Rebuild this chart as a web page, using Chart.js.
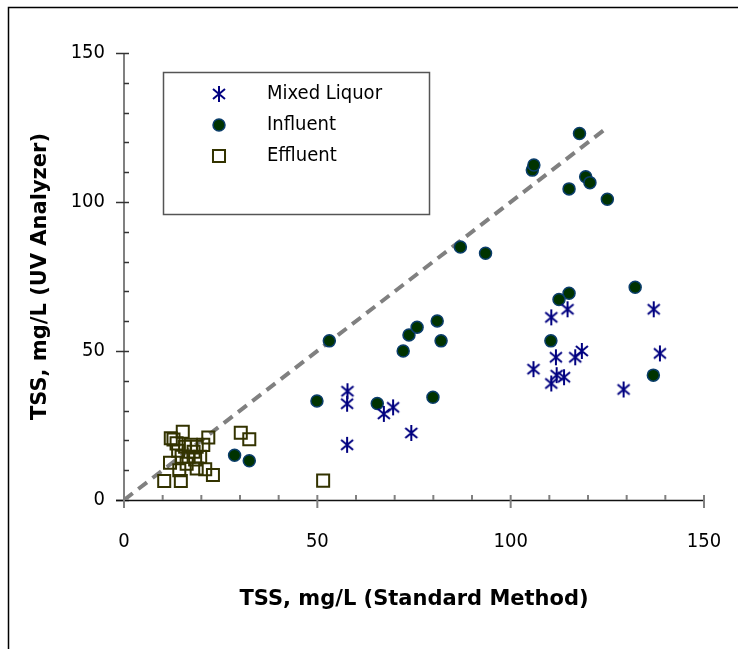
<!DOCTYPE html>
<html>
<head>
<meta charset="utf-8">
<script src="https://cdn.jsdelivr.net/npm/chart.js@4.4.1/dist/chart.umd.min.js"></script>
<style>
  html, body { margin: 0; padding: 0; background: #fff; }
  canvas { display: block; }
</style>
</head>
<body>
<canvas id="c" width="738" height="649"></canvas>
<script>
// ---- data ----
const seriesNames = ['Mixed Liquor', 'Influent', 'Effluent'];
const mixedX = [57.8, 57.7, 57.7, 67.2, 69.6, 74.3, 114.7, 110.5, 111.7, 116.7, 118.4, 105.9, 111.9, 113.8, 110.5, 129.2, 137.0, 138.6];
const mixedY = [36.5, 32.3, 18.5, 28.9, 31.1, 22.5, 64.0, 61.3, 47.9, 47.9, 50.0, 43.9, 41.9, 41.2, 39.1, 37.1, 64.0, 49.2];
const influentX = [28.6, 32.4, 49.9, 53.1, 65.5, 72.2, 73.7, 75.8, 81.0, 82.0, 79.9, 87.0, 93.5, 105.6, 106.0, 117.8, 115.1, 119.4, 120.5, 125.0, 115.1, 112.5, 110.4, 132.2, 136.9];
const influentY = [15.0, 13.2, 33.2, 53.4, 32.4, 50.0, 55.4, 58.0, 60.1, 53.4, 34.5, 84.9, 82.8, 110.7, 112.4, 123.0, 104.4, 108.5, 106.5, 100.9, 69.4, 67.3, 53.4, 71.4, 41.9];
const effluentX = [10.4, 14.7, 11.9, 14.3, 12.1, 12.8, 15.2, 21.8, 20.5, 23.0, 21.0, 18.8, 18.4, 19.7, 16.7, 14.9, 17.3, 13.6, 15.8, 18.8, 30.2, 32.4, 18.0, 51.5, 16.2, 14.0];
const effluentY = [6.4, 6.4, 12.5, 10.0, 20.7, 20.3, 22.9, 21.0, 18.5, 8.4, 10.3, 10.6, 13.6, 14.5, 14.5, 14.5, 18.5, 19.0, 17.9, 17.9, 22.6, 20.4, 16.2, 6.5, 12.2, 16.5];
const lineX = [0, 125];
const lineY = [0, 125];
const xTicks = [0, 50, 100, 150];
const yTicks = [0, 50, 100, 150];
const xTitle = 'TSS, mg/L (Standard Method)';
const yTitle = 'TSS, mg/L (UV Analyzer)';

const FONT = "'DejaVu Sans Condensed', 'DejaVu Sans', sans-serif";
const TITLE_FONT = "'DejaVu Sans', sans-serif";

// asterisk marker
function makeAsterisk() {
  const c = document.createElement('canvas');
  c.width = 18; c.height = 20;
  const g = c.getContext('2d');
  g.strokeStyle = '#000080';
  g.lineWidth = 2;
  g.beginPath();
  g.moveTo(9, 2); g.lineTo(9, 18);
  g.moveTo(3, 5); g.lineTo(15, 15);
  g.moveTo(15, 5); g.lineTo(3, 15);
  g.stroke();
  return c;
}
const asterisk = makeAsterisk();

const zip = (xs, ys) => xs.map((x, i) => ({ x: x, y: ys[i] }));

const decor = {
  id: 'decor',
  beforeDraw(chart) {
    const ctx = chart.ctx;
    ctx.save();
    ctx.fillStyle = '#fff';
    ctx.fillRect(0, 0, chart.width, chart.height);
    ctx.strokeStyle = '#000';
    ctx.lineWidth = 1.5;
    ctx.strokeRect(8.5, 7.5, 1000, 1000);
    ctx.restore();
  },
  beforeDatasetsDraw(chart) {
    const ctx = chart.ctx;
    const xs = chart.scales.x, ys = chart.scales.y;
    const x0 = xs.getPixelForValue(0), x1 = xs.getPixelForValue(150);
    const y0 = ys.getPixelForValue(0), y1 = ys.getPixelForValue(150);
    ctx.save();
    ctx.strokeStyle = '#808080';
    ctx.lineWidth = 2;
    ctx.beginPath(); ctx.moveTo(x0, y1); ctx.lineTo(x0, y0 + 8); ctx.stroke();
    ctx.strokeStyle = '#333';
    ctx.lineWidth = 1.5;
    for (let v = 0; v <= 150; v += 10) {
      const p = Math.round(ys.getPixelForValue(v)) + 0.5;
      const major = v % 50 === 0;
      ctx.beginPath();
      ctx.moveTo(major ? x0 - 8 : x0, p);
      ctx.lineTo(x0 + 5, p);
      ctx.stroke();
    }
    ctx.strokeStyle = '#111';
    ctx.lineWidth = 1.5;
    ctx.beginPath(); ctx.moveTo(x0 - 8, Math.round(y0) + 0.5); ctx.lineTo(x1, Math.round(y0) + 0.5); ctx.stroke();
    ctx.strokeStyle = '#808080';
    ctx.lineWidth = 2;
    for (let v = 0; v <= 150; v += 10) {
      const p = xs.getPixelForValue(v);
      const major = v % 50 === 0;
      ctx.beginPath();
      ctx.moveTo(p, y0 - 5);
      ctx.lineTo(p, major ? y0 + 8 : y0);
      ctx.stroke();
    }
    ctx.restore();
  },
  afterDatasetsDraw(chart) {
    const ctx = chart.ctx;
    ctx.save();
    const bx = 163.5, by = 72.5, bw = 266, bh = 142;
    ctx.fillStyle = '#fff';
    ctx.fillRect(bx, by, bw, bh);
    ctx.strokeStyle = '#555';
    ctx.lineWidth = 1.5;
    ctx.strokeRect(bx, by, bw, bh);
    const rows = [94, 125, 156];
    [0, 1, 2].forEach(i => {
      const ds = chart.data.datasets[i];
      ctx.save();
      ctx.fillStyle = ds.backgroundColor;
      ctx.strokeStyle = ds.borderColor;
      ctx.lineWidth = ds.pointBorderWidth;
      Chart.helpers.drawPoint(ctx, {
        pointStyle: ds.pointStyle,
        radius: ds.pointRadius,
        borderWidth: ds.pointBorderWidth,
        rotation: 0
      }, 219, rows[i]);
      ctx.restore();
      ctx.font = '20px ' + FONT;
      ctx.fillStyle = '#000';
      ctx.textBaseline = 'middle';
      ctx.textAlign = 'left';
      ctx.fillText(ds.label, 267, rows[i]);
    });
    ctx.restore();
  }
};

new Chart(document.getElementById('c'), {
  type: 'scatter',
  data: {
    datasets: [
      { label: seriesNames[0], data: zip(mixedX, mixedY), pointStyle: asterisk, pointRadius: 8, pointBorderWidth: 2,
        borderColor: '#000080', backgroundColor: '#000080', pointHoverRadius: 8 },
      { label: seriesNames[1], data: zip(influentX, influentY), pointStyle: 'circle', pointRadius: 6, pointBorderWidth: 1.5,
        borderColor: '#0a3d6b', backgroundColor: '#003300' },
      { label: seriesNames[2], data: zip(effluentX, effluentY), pointStyle: 'rect', pointRadius: 8.5, pointBorderWidth: 2,
        borderColor: '#333300', backgroundColor: 'rgba(0,0,0,0)' },
      { label: 'line', data: zip(lineX, lineY), showLine: true, pointRadius: 0, borderColor: '#808080',
        borderWidth: 4, borderDash: [11, 7], fill: false }
    ]
  },
  options: {
    responsive: false,
    animation: false,
    devicePixelRatio: 1,
    layout: { padding: { left: 0, top: 53, right: 34, bottom: 0 } },
    plugins: { legend: { display: false }, tooltip: { enabled: false } },
    scales: {
      x: {
        type: 'linear', min: 0, max: 150,
        grid: { display: false, drawTicks: false },
        border: { display: false },
        afterBuildTicks: s => { s.ticks = xTicks.map(v => ({ value: v })); },
        afterFit: s => { s.height = 149; s.paddingLeft = 0; s.paddingRight = 0; },
        ticks: { font: { family: FONT, size: 20 }, color: '#000', padding: 30, autoSkip: false, maxRotation: 0 },
        title: { display: true, text: xTitle, font: { family: TITLE_FONT, size: 21, weight: 'bold' }, color: '#000',
                 padding: { top: 0, bottom: 37 } }
      },
      y: {
        type: 'linear', min: 0, max: 150,
        grid: { display: false, drawTicks: false },
        border: { display: false },
        afterBuildTicks: s => { s.ticks = yTicks.map(v => ({ value: v })); },
        afterFit: s => { s.width = 124; s.paddingTop = 0; s.paddingBottom = 0; },
        ticks: { font: { family: FONT, size: 20 }, color: '#000', padding: 19, autoSkip: false },
        title: { display: true, text: yTitle, font: { family: TITLE_FONT, size: 21, weight: 'bold' }, color: '#000',
                 padding: { top: 28, bottom: 0 } }
      }
    }
  },
  plugins: [decor]
});
</script>
</body>
</html>
